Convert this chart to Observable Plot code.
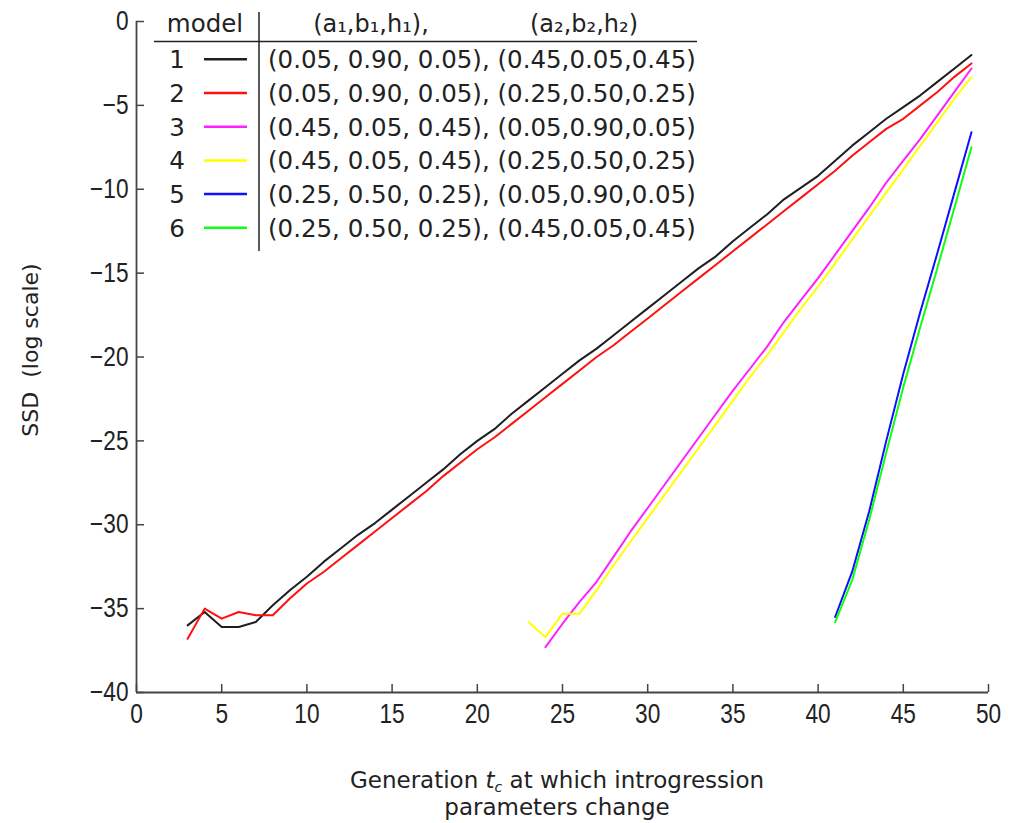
<!DOCTYPE html>
<html><head><meta charset="utf-8">
<script src="https://cdn.jsdelivr.net/npm/d3@7"></script>
<script src="https://cdn.jsdelivr.net/npm/@observablehq/plot@0.6"></script>
<style>
html,body{margin:0;padding:0;background:#fff;}
#chart{position:relative;width:1010px;height:823px;}
</style></head><body><div id="chart"></div>
<script>
// ---- data ----
const xTicks = [0, 5, 10, 15, 20, 25, 30, 35, 40, 45, 50];
const yTicks = [0, -5, -10, -15, -20, -25, -30, -35, -40];
const modelIds = [1, 2, 3, 4, 5, 6];
const modelColors = ["#1e1e1e", "#ff1010", "#ff20ff", "#ffff00", "#1010ff", "#10ff10"];
const paramsText = [
  "(0.05, 0.90, 0.05), (0.45,0.05,0.45)",
  "(0.05, 0.90, 0.05), (0.25,0.50,0.25)",
  "(0.45, 0.05, 0.45), (0.05,0.90,0.05)",
  "(0.45, 0.05, 0.45), (0.25,0.50,0.25)",
  "(0.25, 0.50, 0.25), (0.05,0.90,0.05)",
  "(0.25, 0.50, 0.25), (0.45,0.05,0.45)"
];
const headerBefore = "(a\u2081,b\u2081,h\u2081),";
const headerAfter = "(a\u2082,b\u2082,h\u2082)";
const startGen = [3, 3, 24, 23, 41, 41];
const ssd1 = [-36.0,-35.2,-36.1,-36.1,-35.8,-34.8,-33.9,-33.1,-32.2,-31.4,-30.6,-29.9,-29.1,-28.3,-27.5,-26.7,-25.8,-25.0,-24.3,-23.4,-22.6,-21.8,-21.0,-20.2,-19.5,-18.7,-17.9,-17.1,-16.3,-15.5,-14.7,-14.0,-13.1,-12.3,-11.5,-10.6,-9.9,-9.2,-8.3,-7.4,-6.6,-5.8,-5.1,-4.4,-3.6,-2.8,-2.0];
const ssd2 = [-36.8,-35.0,-35.6,-35.2,-35.4,-35.4,-34.4,-33.5,-32.8,-32.0,-31.2,-30.4,-29.6,-28.8,-28.0,-27.1,-26.3,-25.5,-24.8,-24.0,-23.2,-22.4,-21.6,-20.8,-20.0,-19.3,-18.5,-17.7,-16.9,-16.1,-15.3,-14.5,-13.7,-12.9,-12.1,-11.3,-10.5,-9.7,-8.9,-8.0,-7.2,-6.4,-5.8,-5.0,-4.2,-3.3,-2.5];
const ssd3 = [-37.3,-35.9,-34.6,-33.4,-31.9,-30.4,-29.0,-27.6,-26.2,-24.8,-23.4,-22.0,-20.7,-19.4,-17.9,-16.6,-15.3,-13.9,-12.5,-11.1,-9.6,-8.3,-7.0,-5.6,-4.2,-2.8];
const ssd4 = [-35.8,-36.7,-35.3,-35.3,-33.9,-32.4,-31.0,-29.6,-28.2,-26.8,-25.4,-24.0,-22.6,-21.2,-19.9,-18.5,-17.1,-15.8,-14.4,-13.0,-11.6,-10.2,-8.8,-7.4,-6.0,-4.6,-3.3];
const ssd5 = [-35.5,-32.8,-29.2,-25.0,-21.0,-17.3,-13.8,-10.2,-6.6];
const ssd6 = [-35.8,-33.3,-29.7,-25.7,-21.8,-18.2,-14.7,-11.1,-7.5];

const series = [ssd1, ssd2, ssd3, ssd4, ssd5, ssd6];
const rows = [];
series.forEach((vals, i) => vals.forEach((v, j) => rows.push({model: modelIds[i], gen: startGen[i] + j, ssd: v})));

// ---- layout ----
const W = 1010, H = 823, mL = 136, mR = 22, mT = 21, mB = 131;
const frameW = W - mL - mR, frameH = H - mT - mB;
const tickLen = 8;

const plot = Plot.plot({
  width: W, height: H,
  marginLeft: mL, marginRight: mR, marginTop: mT, marginBottom: mB,
  style: {fontFamily: "'Liberation Sans',Arial,sans-serif", fontSize: "27px", color: "#222", background: "#fff", overflow: "visible"},
  x: {domain: [0, 50]},
  y: {domain: [-40, 0]},
  color: {domain: modelIds, range: modelColors},
  marks: [
    Plot.axisX(xTicks, {tickSize: 0, tickPadding: 11, label: null}),
    Plot.axisY(yTicks, {tickSize: 0, tickPadding: 8, label: null}),
    Plot.tickX(xTicks, {x: d => d, insetTop: frameH - tickLen, stroke: "#444", strokeWidth: 1.5}),
    Plot.tickY(yTicks, {y: d => d, insetRight: frameW - tickLen, stroke: "#444", strokeWidth: 1.5}),
    Plot.ruleX([0], {stroke: "#444", strokeWidth: 1.8}),
    Plot.ruleY([-40], {stroke: "#444", strokeWidth: 1.8}),
    Plot.line(rows, {x: "gen", y: "ssd", z: "model", stroke: "model", strokeWidth: 2})
  ]
});
document.getElementById("chart").appendChild(plot);

const svg = d3.select(plot);

// condense tick labels horizontally (reference uses a narrow face)
const squeeze = 0.84;
svg.selectAll("g[aria-label='x-axis tick label'] text, g[aria-label='y-axis tick label'] text").each(function () {
  const t = d3.select(this);
  const tr = t.attr("transform");
  if (tr && tr.includes("translate")) {
    t.attr("transform", tr + ` scale(${squeeze},1)`);
  } else {
    const x = +t.attr("x") || 0, y = +t.attr("y") || 0;
    t.attr("x", null).attr("y", null).attr("transform", `translate(${x},${y}) scale(${squeeze},1)`);
  }
});

const dv = "'DejaVu Sans', sans-serif";

// x title (two lines)
const xt1 = svg.append("text").attr("font-family", dv).attr("font-size", 23).attr("fill", "#222")
  .attr("text-anchor", "middle").attr("x", 557).attr("y", 788);
xt1.append("tspan").text("Generation ");
xt1.append("tspan").attr("font-style", "italic").text("t");
xt1.append("tspan").attr("font-size", 14).attr("font-style", "italic").attr("dy", 4).text("c");
xt1.append("tspan").attr("dy", -4).text(" at which introgression");
svg.append("text").attr("font-family", dv).attr("font-size", 23).attr("fill", "#222")
  .attr("text-anchor", "middle").attr("x", 557).attr("y", 815).text("parameters change");

// y title
svg.append("text").attr("font-family", dv).attr("font-size", 22).attr("fill", "#222")
  .attr("text-anchor", "middle").attr("transform", "translate(38,350) rotate(-90)")
  .text("SSD\u00a0\u00a0(log scale)");

// legend table
const lg = svg.append("g").attr("font-family", dv).attr("fill", "#222");
lg.append("line").attr("x1", 154).attr("x2", 697).attr("y1", 41.5).attr("y2", 41.5).attr("stroke", "#222").attr("stroke-width", 1.5);
lg.append("line").attr("x1", 259).attr("x2", 259).attr("y1", 12).attr("y2", 251).attr("stroke", "#222").attr("stroke-width", 1.5);
lg.append("text").attr("x", 205).attr("y", 32).attr("text-anchor", "middle").attr("font-size", 24.5).text("model");
lg.append("text").attr("x", 371).attr("y", 32).attr("text-anchor", "middle").attr("font-size", 24).text(headerBefore);
lg.append("text").attr("x", 584).attr("y", 32).attr("text-anchor", "middle").attr("font-size", 24).text(headerAfter);
modelIds.forEach((m, i) => {
  const cy = 59.3 + 33.7 * i;
  lg.append("text").attr("x", 177).attr("y", cy).attr("dy", "0.36em").attr("text-anchor", "middle").attr("font-size", 24.5).text(String(m));
  lg.append("line").attr("x1", 204).attr("x2", 247).attr("y1", cy).attr("y2", cy).attr("stroke", modelColors[i]).attr("stroke-width", 2.5);
  lg.append("text").attr("x", 268).attr("y", cy).attr("dy", "0.36em").attr("text-anchor", "start").attr("font-size", 24.5).text(paramsText[i]);
});
</script>
</body></html>
